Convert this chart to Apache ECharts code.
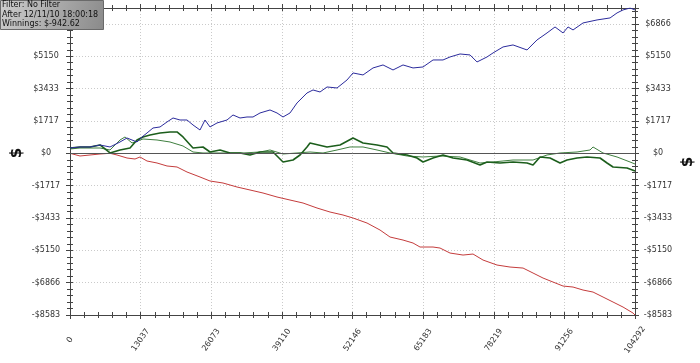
<!DOCTYPE html>
<html><head><meta charset="utf-8">
<script src="https://cdn.jsdelivr.net/npm/echarts@6/dist/echarts.min.js"></script>
<style>html,body{margin:0;padding:0;background:#fff}#c{width:700px;height:363px}</style>
</head><body><div id="c"></div>
<script>
// ---- data ----
var infoLines = ['Filter: No Filter', 'After 12/11/10 18:00:18', 'Winnings: $-942.62'];
var xTickLabels = [0, 13037, 26073, 39110, 52146, 65183, 78219, 91256, 104292];
var yTickLabels = [-8583, -6866, -5150, -3433, -1717, 0, 1717, 3433, 5150, 6866];

var blueHands = [0,1846,3692,5538,7384,9230,10522,12368,13291,14214,15322,16614,17906,19014,20306,21598,22706,23998,24921,25844,27136,28982,30090,31382,32674,33782,35074,36920,38212,39320,40612,41904,43750,44858,46150,47442,49288,51134,52242,54088,55934,57780,59626,61472,63318,65164,67010,68856,70148,71994,73840,75132,76978,78086,79932,81778,84362,86208,88054,89530,91008,91931,92854,94700,97284,99684,100976,102084,103376,104292];
var blueWin = [281,335,335,441,335,600,812,600,866,1078,1343,1397,1662,1874,1768,1768,1503,1237,1768,1397,1609,1768,2034,1874,1927,1927,2140,2299,2140,1927,2140,2671,3202,3361,3255,3520,3467,3892,4264,4158,4530,4689,4423,4689,4530,4582,4954,4954,5113,5272,5220,4848,5113,5326,5644,5751,5485,6016,6388,6706,6388,6706,6547,6919,7078,7184,7450,7609,7712,7609];

var redHands = [0,1846,3692,5538,7384,8676,10522,11999,12922,14214,16060,17906,19752,21598,23998,25844,28244,30828,33228,35628,38212,40612,43012,45596,47996,50396,52242,54826,57226,59072,61472,63318,64610,67010,68302,70148,72548,74394,76240,78824,81224,83624,85470,87316,89162,91008,92854,94700,96546,98392,100238,102084,103930,104292];
var redWin = [0,-143,-90,-37,0,-90,-250,-303,-196,-409,-515,-674,-727,-993,-1258,-1471,-1577,-1789,-1948,-2108,-2320,-2480,-2639,-2904,-3117,-3276,-3435,-3701,-4073,-4444,-4604,-4763,-4975,-4975,-5029,-5294,-5400,-5347,-5666,-5931,-6037,-6091,-6356,-6621,-6834,-7046,-7099,-7258,-7365,-7630,-7895,-8161,-8480,-8583];

var greenAHands = [0,1846,3692,5538,7384,9230,11076,12368,13476,14768,16614,18460,19752,20860,22706,24552,25844,27690,29536,31382,33228,35074,37474,39320,41166,42458,43750,44304,47442,49842,52242,54088,56672,58518,59626,62210,64056,65164,67010,68856,70702,73286,75686,76978,79378,81778,84362,85470,86762,88608,90454,91746,93592,95438,97838,99130,100238,102822,104292];
var greenAWin = [281,335,335,441,16,175,281,706,866,972,1078,1131,1131,866,281,335,69,175,16,16,-90,69,69,-462,-356,-90,335,547,335,441,812,547,441,335,16,-90,-250,-462,-250,-90,-250,-356,-621,-462,-515,-462,-515,-621,-196,-250,-515,-356,-250,-196,-250,-515,-727,-781,-943];

var greenBHands = [0,1846,3692,5538,7384,9230,10153,11445,13476,16060,18460,20860,22706,24552,28982,31936,35074,36920,39320,41904,44304,46704,49288,51688,54088,56672,59072,62210,65164,68302,71994,75686,78086,81778,85470,88054,90454,93592,95992,96546,98392,100976,103376,104292];
var greenBWin = [228,281,281,281,175,706,866,547,759,706,600,388,69,16,16,16,69,175,-37,16,69,16,175,335,335,175,16,-143,-196,-143,-196,-515,-462,-356,-356,-90,16,69,175,335,16,-196,-462,-568];

function pairs(h, v) { return h.map(function (x, i) { return [x, v[i]]; }); }

var X_MIN = xTickLabels[0], X_MAX = xTickLabels[xTickLabels.length - 1];
var X_INT = (X_MAX - X_MIN) / (xTickLabels.length - 1);
var Y_MIN = yTickLabels[0], Y_INT = -Y_MIN / 5, Y_MAX = 7712;

var FONT = 'DejaVu Sans';
function yFmt(v) {
  if (Math.abs(v - Y_MAX) < 1) return '';
  var r = Math.round(v);
  return r < 0 ? '-$' + (-r) : '$' + r;
}
function xAx(pos, inside, main) {
  return {
    type: 'value', position: pos, min: X_MIN, max: X_MAX, interval: X_INT,
    axisLine: { show: main, onZero: false, lineStyle: { color: '#444', width: 1 } },
    axisTick: { show: true, inside: inside, length: inside ? 3 : 4, lineStyle: { color: '#444' } },
    minorTick: { show: true, splitNumber: 5, length: 3, lineStyle: { color: '#444' } },
    axisLabel: main && pos === 'bottom' ? {
      show: true, rotate: 55, align: 'center', verticalAlign: 'middle', margin: 25,
      fontFamily: FONT, fontSize: 8, color: '#333',
      formatter: function (v) { return String(Math.round(v)); }
    } : { show: false },
    splitLine: { show: main && pos === 'bottom', lineStyle: { color: '#cacaca', type: [1, 2] } },
    minorSplitLine: { show: false }
  };
}
function yAx(pos, inside, main) {
  return {
    type: 'value', position: pos, min: Y_MIN, max: Y_MAX, interval: Y_INT,
    axisLine: { show: main, onZero: false, lineStyle: { color: '#444', width: 1 } },
    axisTick: { show: true, inside: inside, length: inside ? 3 : 4, lineStyle: { color: '#444' } },
    minorTick: { show: true, splitNumber: 5, length: 3, lineStyle: { color: '#444' } },
    axisLabel: main ? {
      show: true, align: 'center', margin: pos === 'left' ? 24 : 23, showMaxLabel: false,
      fontFamily: FONT, fontSize: 8, color: '#333', formatter: yFmt
    } : { show: false },
    splitLine: { show: main && pos === 'left', lineStyle: { color: '#cacaca', type: [1, 2] } },
    minorSplitLine: { show: false }
  };
}

var chart = echarts.init(document.getElementById('c'), null, { renderer: 'canvas' });
chart.setOption({
  animation: false,
  backgroundColor: '#fff',
  grid: { left: 70, right: 65, top: 8, bottom: 48, containLabel: false },
  xAxis: [xAx('bottom', false, true), xAx('bottom', true, false), xAx('top', true, true), xAx('top', false, false)],
  yAxis: [yAx('left', false, true), yAx('left', true, false), yAx('right', false, true), yAx('right', true, false)],
  series: [
    { name: 'zero', type: 'line', data: [], xAxisIndex: 0, yAxisIndex: 0,
      markLine: { silent: true, symbol: 'none', label: { show: false },
        lineStyle: { color: '#555', type: 'solid', width: 1 }, data: [{ yAxis: 0 }] } },
    { name: 'red', type: 'line', data: pairs(redHands, redWin), showSymbol: false, symbol: 'none',
      lineStyle: { color: '#c43c3c', width: 1 }, z: 3 },
    { name: 'greenB', type: 'line', data: pairs(greenBHands, greenBWin), showSymbol: false, symbol: 'none',
      lineStyle: { color: '#3f7f3f', width: 1 }, z: 3 },
    { name: 'greenA', type: 'line', data: pairs(greenAHands, greenAWin), showSymbol: false, symbol: 'none',
      lineStyle: { color: '#1c5e1c', width: 1.6 }, z: 4 },
    { name: 'blue', type: 'line', data: pairs(blueHands, blueWin), showSymbol: false, symbol: 'none',
      lineStyle: { color: '#2b2b9c', width: 1 }, z: 5 }
  ],
  graphic: [
    { type: 'rect', left: 0, top: 0, z: 100, shape: { x: 0, y: 0, width: 103, height: 29 },
      style: { fill: new echarts.graphic.LinearGradient(0, 0, 1, 1, [
        { offset: 0, color: '#cdcdcd' }, { offset: 1, color: '#8a8a8a' }]), stroke: '#6a6a6a', lineWidth: 1 } },
    { type: 'text', left: 2, top: 1, z: 101, style: { text: infoLines[0], font: '8px "DejaVu Sans"', fill: '#111' } },
    { type: 'text', left: 2, top: 10.5, z: 101, style: { text: infoLines[1], font: '8px "DejaVu Sans"', fill: '#111' } },
    { type: 'text', left: 2, top: 20, z: 101, style: { text: infoLines[2], font: '8px "DejaVu Sans"', fill: '#111' } },
    { type: 'text', x: 17, y: 153, rotation: Math.PI / 2, z: 101,
      style: { text: '$', font: 'bold 15px "DejaVu Sans"', fill: '#111', align: 'center', verticalAlign: 'middle' } },
    { type: 'text', x: 688, y: 162, rotation: Math.PI / 2, z: 101,
      style: { text: '$', font: 'bold 15px "DejaVu Sans"', fill: '#111', align: 'center', verticalAlign: 'middle' } }
  ]
});
</script></body></html>
